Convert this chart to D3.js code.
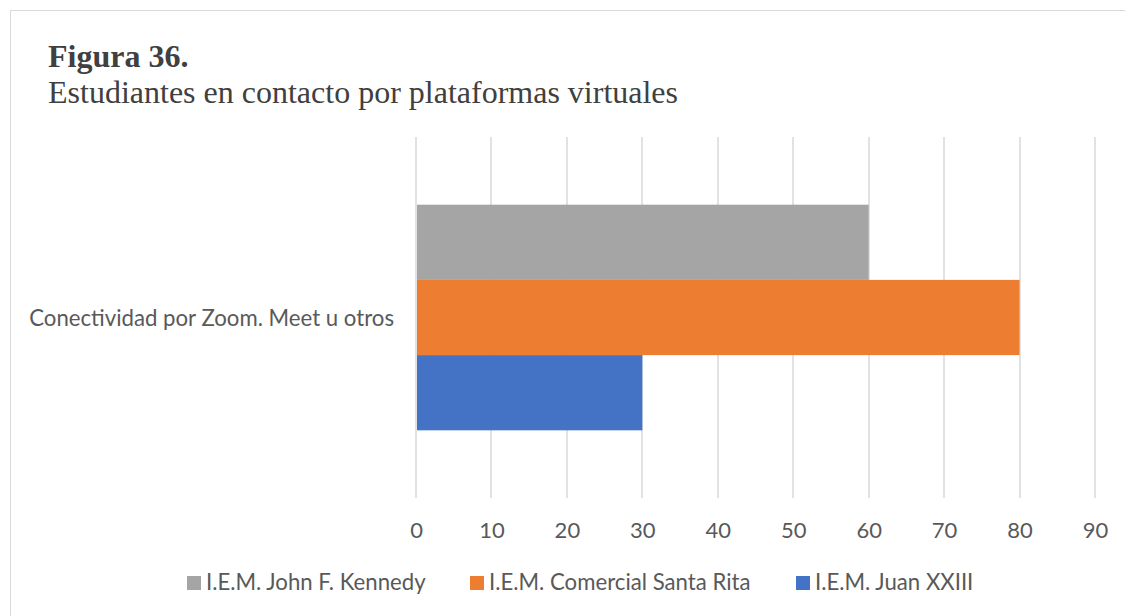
<!DOCTYPE html>
<html>
<head>
<meta charset="utf-8">
<script src="https://cdn.jsdelivr.net/npm/d3@7"></script>
<style>
  html, body { margin: 0; padding: 0; background: #fff; }
  svg { display: block; }
</style>
</head>
<body>
<svg id="chart" width="1125" height="616"></svg>
<script>
// Chart data
const categories = ["Conectividad por Zoom. Meet u otros"];
const seriesNames = ["I.E.M. John F. Kennedy", "I.E.M. Comercial Santa Rita", "I.E.M. Juan XXIII"];
const seriesColors = ["#A5A5A5", "#ED7D31", "#4472C4"];
const seriesValues = [[60], [80], [30]];
const xTicks = [0, 10, 20, 30, 40, 50, 60, 70, 80, 90];

const svg = d3.select("#chart");
const W = 1125, H = 616;
const sans = "Lato, 'Open Sans', sans-serif";
const serif = "'Liberation Serif', 'Times New Roman', serif";
const textColor = "#595959";

// Outer frame
svg.append("rect")
  .attr("x", 10.5).attr("y", 10.5)
  .attr("width", W + 20).attr("height", H + 20)
  .attr("fill", "#fff").attr("stroke", "#D9D9D9").attr("stroke-width", 1);

// Titles
svg.append("text")
  .attr("x", 48).attr("y", 67)
  .attr("font-family", serif).attr("font-size", 32).attr("font-weight", "bold")
  .attr("fill", "#404040")
  .text("Figura 36.");
svg.append("text")
  .attr("x", 48).attr("y", 103)
  .attr("font-family", serif).attr("font-size", 32)
  .attr("fill", "#404040")
  .text("Estudiantes en contacto por plataformas virtuales");

// Plot area
const plot = { left: 416, right: 1095, top: 137, bottom: 498 };

const x = d3.scaleLinear().domain([0, 90]).range([plot.left, plot.right]);
const y = d3.scaleBand().domain(categories).range([plot.top, plot.bottom]).paddingInner(0).paddingOuter(0);
const inner = d3.scaleBand().domain(d3.range(seriesNames.length))
  .range([0, y.bandwidth()]).paddingOuter(0.9).paddingInner(0);

// Vertical gridlines
svg.append("g")
  .selectAll("line")
  .data(xTicks)
  .join("line")
  .attr("x1", d => Math.round(x(d))).attr("x2", d => Math.round(x(d)))
  .attr("y1", plot.top).attr("y2", plot.bottom)
  .attr("stroke", "#D9D9D9").attr("stroke-width", 1.5);

// Bars
categories.forEach((cat, ci) => {
  svg.append("g")
    .selectAll("rect")
    .data(seriesNames.map((name, si) => ({ si, v: seriesValues[si][ci] })))
    .join("rect")
    .attr("x", x(0) + 1)
    .attr("y", d => y(cat) + inner(d.si))
    .attr("width", d => x(d.v) - x(0) - 1)
    .attr("height", inner.bandwidth())
    .attr("fill", d => seriesColors[d.si]);
});

// Category axis label
svg.append("g")
  .selectAll("text")
  .data(categories)
  .join("text")
  .attr("x", plot.left - 22)
  .attr("y", 326)
  .attr("text-anchor", "end")
  .attr("font-family", sans).attr("font-size", 22.2)
  .attr("fill", textColor)
  .text(d => d);

// Value axis tick labels
const xAxis = d3.axisBottom(x).tickValues(xTicks).tickSize(0).tickPadding(0);
const gx = svg.append("g")
  .attr("transform", `translate(0, ${plot.bottom})`)
  .call(xAxis);
gx.select(".domain").remove();
gx.selectAll("text")
  .attr("dy", null)
  .attr("y", 40)
  .attr("font-family", sans).attr("font-size", 22)
  .attr("fill", textColor);

// Legend
const legendX = [187, 470, 796];
const legend = svg.append("g")
  .selectAll("g")
  .data(seriesNames)
  .join("g")
  .attr("transform", (d, i) => `translate(${legendX[i]}, 590)`);
legend.append("rect")
  .attr("x", 0).attr("y", -14)
  .attr("width", 14).attr("height", 14)
  .attr("fill", (d, i) => seriesColors[i]);
legend.append("text")
  .attr("x", 19).attr("y", 0)
  .attr("font-family", sans).attr("font-size", 22.2)
  .attr("fill", textColor)
  .text(d => d);
</script>
</body>
</html>
